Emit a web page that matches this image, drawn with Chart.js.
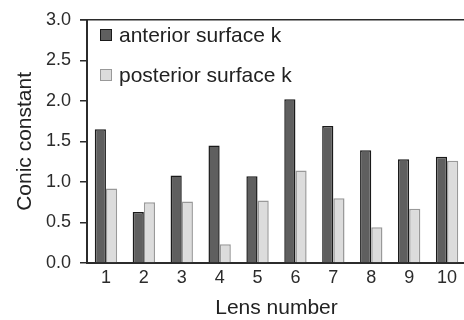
<!DOCTYPE html>
<html>
<head>
<meta charset="utf-8">
<script src="https://cdn.jsdelivr.net/npm/chart.js@4/dist/chart.umd.min.js"></script>
<style>
  html, body { margin: 0; padding: 0; overflow: hidden; background: #fff; }
  #wrap { position: relative; width: 480px; height: 320px; }
  #legend { position: absolute; left: 100px; top: 29px; font-family: "Liberation Sans", Arial, sans-serif; font-size: 21px; color: #222; }
  .item { display: flex; align-items: center; height: 12px; margin-bottom: 28px; white-space: nowrap; }
  .box { width: 10px; height: 10px; border: 1px solid #333; margin-right: 7px; }
</style>
</head>
<body>
<div id="wrap">
  <canvas id="chart" width="480" height="320"></canvas>
  <div id="legend"></div>
</div>
<script>
const lenses = ['1', '2', '3', '4', '5', '6', '7', '8', '9', '10'];
const anteriorK = [1.65, 0.63, 1.08, 1.45, 1.07, 2.02, 1.69, 1.39, 1.28, 1.31];
const posteriorK = [0.92, 0.75, 0.76, 0.23, 0.77, 1.14, 0.80, 0.44, 0.67, 1.26];
const yTicks = [0, 0.5, 1.0, 1.5, 2.0, 2.5, 3.0];

function el(id) { return document.getElementById(id); }

const fontFamily = '"Liberation Sans", Arial, sans-serif';
const axisColor = '#2b2b2b';

// top frame line of the plot box
const topLine = {
  id: 'topLine',
  afterDraw(chart) {
    const { ctx, chartArea } = chart;
    ctx.save();
    ctx.strokeStyle = axisColor;
    ctx.lineWidth = 1.5;
    ctx.beginPath();
    ctx.moveTo(chartArea.left - 7, chartArea.top);
    ctx.lineTo(chartArea.right, chartArea.top);
    ctx.stroke();
    ctx.restore();
  }
};

const chart = new Chart(el('chart').getContext('2d'), {
  type: 'bar',
  data: {
    labels: lenses,
    datasets: [{
      label: 'anterior surface k',
      data: anteriorK,
      backgroundColor: '#5f5f5f',
      borderColor: '#1a1a1a',
      borderWidth: 1.5,
      categoryPercentage: 0.59,
      barPercentage: 1.0
    }, {
      label: 'posterior surface k',
      data: posteriorK,
      backgroundColor: '#dcdcdc',
      borderColor: '#999',
      borderWidth: 1.5,
      categoryPercentage: 0.59,
      barPercentage: 1.0
    }]
  },
  options: {
    responsive: false,
    animation: false,
    layout: { padding: { top: 15, right: 14, left: 0, bottom: 0 } },
    plugins: {
      legend: { display: false },
      tooltip: { enabled: false }
    },
    scales: {
      x: {
        grid: { display: false, drawTicks: false },
        border: { display: true, color: axisColor, width: 2 },
        ticks: { color: '#2b2b2b', font: { family: fontFamily, size: 18 }, padding: 4 },
        title: {
          display: true,
          text: 'Lens number',
          color: '#222',
          font: { family: fontFamily, size: 21, lineHeight: 1 },
          padding: { top: 0, bottom: 1 }
        },
        afterFit(scale) { scale.height = 57; }
      },
      y: {
        min: 0,
        max: 3,
        grid: { drawOnChartArea: false, drawTicks: true, tickLength: 7, color: axisColor, lineWidth: 1.5 },
        border: { display: true, color: axisColor, width: 2 },
        afterBuildTicks(scale) { scale.ticks = yTicks.map(v => ({ value: v })); },
        ticks: {
          color: '#2b2b2b',
          font: { family: fontFamily, size: 18 },
          padding: 9,
          callback: v => Number(v).toFixed(1)
        },
        title: {
          display: true,
          text: 'Conic constant',
          color: '#222',
          font: { family: fontFamily, size: 21 },
          padding: { top: 13, bottom: 0 }
        },
        afterFit(scale) { scale.width = 87; }
      }
    }
  },
  plugins: [topLine]
});

// legend inside the plot area, built from the datasets
(function buildLegend() {
  const box = el('legend');
  chart.data.datasets.forEach((ds) => {
    const row = document.createElement('div');
    row.className = 'item';
    const sw = document.createElement('span');
    sw.className = 'box';
    sw.style.background = ds.backgroundColor;
    sw.style.borderColor = ds.borderColor;
    const txt = document.createElement('span');
    txt.textContent = ds.label;
    row.appendChild(sw);
    row.appendChild(txt);
    box.appendChild(row);
  });
})();
</script>
</body>
</html>
